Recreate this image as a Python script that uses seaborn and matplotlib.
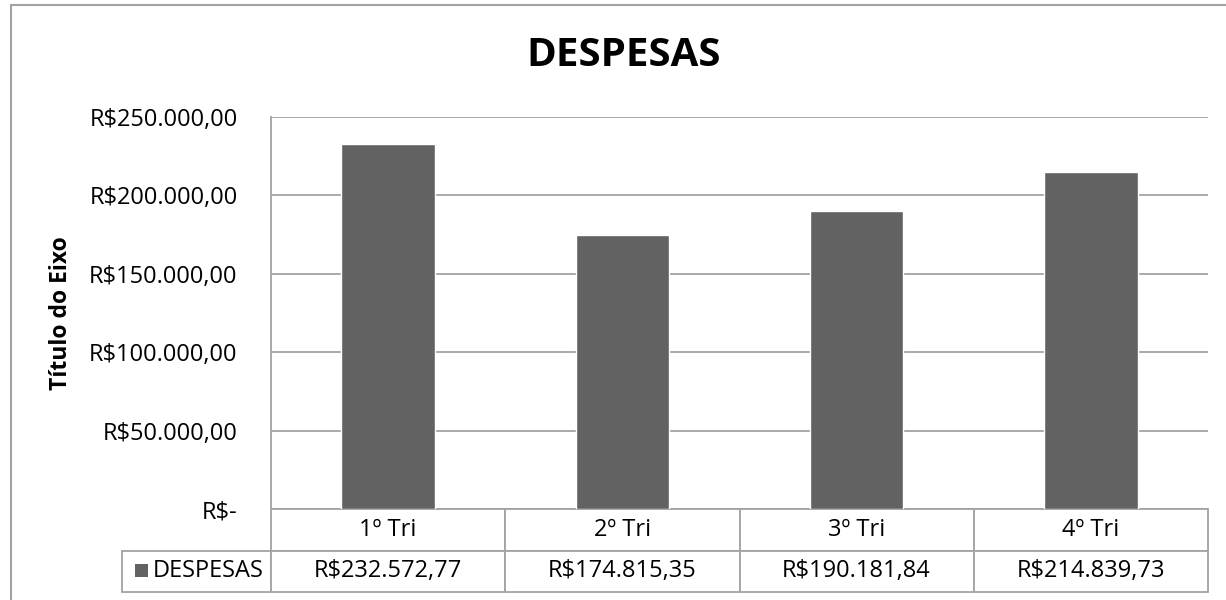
import matplotlib
matplotlib.use("Agg")
import matplotlib.pyplot as plt
import seaborn as sns
from matplotlib.patches import Rectangle

categories = ["1º Tri", "2º Tri", "3º Tri", "4º Tri"]
despesas = [232572.77, 174815.35, 190181.84, 214839.73]
series_name = "DESPESAS"
yticks = [0, 50000, 100000, 150000, 200000, 250000]
ytick_labels = ["R$-", "R$50.000,00", "R$100.000,00", "R$150.000,00",
                "R$200.000,00", "R$250.000,00"]

BAR = "#626262"
LINE = "#a3a3a3"
W, H = 1226, 600


def brl(v):
    s = f"{v:,.2f}".replace(",", "X").replace(".", ",").replace("X", ".")
    return "R$" + s


sns.set_style("white")
plt.rcParams["font.family"] = ["Open Sans", "DejaVu Sans"]
plt.rcParams["text.color"] = "black"
plt.rcParams["ytick.color"] = "black"
plt.rcParams["axes.labelcolor"] = "black"

fig = plt.figure(figsize=(W / 100, H / 100), dpi=100)
# plot area in pixels: x 271..1208, y 117..509
ax = fig.add_axes([271 / W, 1 - 509 / H, (1208 - 271) / W, (509 - 117) / H])

sns.barplot(x=categories, y=despesas, color=BAR, saturation=1, width=0.4, ax=ax, zorder=3)

ax.set_ylim(0, 250000)
ax.set_xlim(-0.5, len(categories) - 0.5)
ax.set_yticks(yticks)
ax.set_yticklabels(ytick_labels, fontsize=17)
ax.tick_params(axis="y", length=0, pad=24)
ax.set_xticks([])
ax.set_xlabel("")
ax.yaxis.grid(True, color=LINE, linewidth=1.3)
ax.set_axisbelow(True)
for side in ["top", "right", "bottom"]:
    ax.spines[side].set_visible(False)
ax.spines["left"].set_color(LINE)
ax.spines["left"].set_linewidth(1.3)

ax.set_ylabel("Título do Eixo", fontsize=16.5, fontweight="bold")
ax.yaxis.set_label_coords((73 - 271) / (1208 - 271), 0.5)

# data table under the plot (first column holds the series name)
ax_w = 1208 - 271
ax_h = 509 - 117
label_w = (271 - 122) / ax_w
row_h = 41.5 / ax_h
tbl = ax.table(cellText=[[series_name] + [brl(v) for v in despesas]],
               colLabels=[""] + categories,
               colWidths=[label_w] + [1 / len(categories)] * len(categories),
               cellLoc="center",
               bbox=[-label_w, -2 * row_h, 1 + label_w, 2 * row_h])
tbl.auto_set_font_size(False)
tbl.set_fontsize(17)
for (r, c), cell in tbl.get_celld().items():
    cell.set_edgecolor(LINE)
    cell.set_linewidth(1.3)
    if r == 0 and c == 0:
        cell.visible_edges = ""
    if r == 1 and c == 0:
        cell.get_text().set_ha("right")
        cell.PAD = 0.05

# legend key in the table
ax.add_patch(Rectangle(((135 - 271) / ax_w, (509 - 577) / ax_h), 13 / ax_w, 13 / ax_h,
                       transform=ax.transAxes, facecolor=BAR, edgecolor="none",
                       clip_on=False))

fig.text(624 / W, 1 - 56 / H, "DESPESAS", ha="center", va="center",
         fontsize=29, fontweight="bold")

# chart area border
fig.patches.append(Rectangle((11 / W, -0.1), 1.2, 1 - 5 / H + 0.1,
                             transform=fig.transFigure, fill=False,
                             edgecolor=LINE, linewidth=1.5))

fig.savefig("out.png", dpi=100, facecolor="white")
